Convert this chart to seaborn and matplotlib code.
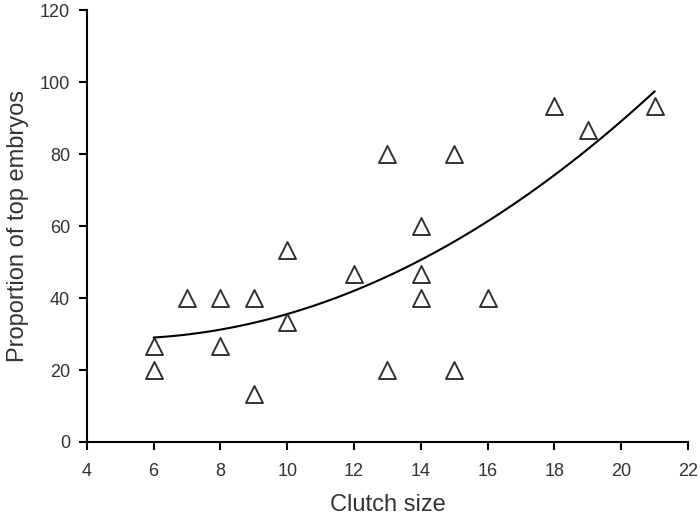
import matplotlib
matplotlib.use('Agg')
import matplotlib.pyplot as plt
import seaborn as sns
import pandas as pd

# Dane
clutch_size = [6, 6, 7, 8, 8, 9, 9, 10, 10, 12, 13, 13, 14, 14, 14, 15, 15, 16, 18, 19, 21]
top_embryos = [26.7, 20, 40, 40, 26.7, 40, 13.3, 53.3, 33.3, 46.7, 80, 20,
               60, 46.7, 40, 80, 20, 40, 93.3, 86.7, 93.3]
x_ticks = [4, 6, 8, 10, 12, 14, 16, 18, 20, 22]
y_ticks = [0, 20, 40, 60, 80, 100, 120]

df = pd.DataFrame({"clutch": clutch_size, "prop": top_embryos})

sns.set_style("ticks")
plt.rcParams['font.family'] = ['Liberation Sans', 'DejaVu Sans']

fig = plt.figure(figsize=(7, 5.2), dpi=100)
ax = fig.add_axes([0.124, 0.15, 0.859, 0.83])

# krzywa trendu wielomianowa (2 stopień) + punkty
sns.regplot(data=df, x="clutch", y="prop", order=2, ci=None, truncate=True,
            marker='^', ax=ax,
            scatter_kws=dict(s=150, facecolors='white', edgecolors='black', linewidths=1.4, zorder=3),
            line_kws=dict(color='black', lw=1.5, zorder=2))

ax.set_xlim(4, 22)
ax.set_ylim(0, 120)
ax.set_xticks(x_ticks)
ax.set_yticks(y_ticks)
ax.tick_params(axis='both', labelsize=13, labelcolor='#333333', direction='out',
               length=6, width=1.5, color='black')
ax.tick_params(axis='x', pad=9)
ax.tick_params(axis='y', pad=6)
for side in ['left', 'bottom']:
    ax.spines[side].set_linewidth(1.5)
    ax.spines[side].set_color('black')
sns.despine(ax=ax)

ax.set_xlabel('Clutch size', fontsize=17, color='#333333', labelpad=10)
ax.set_ylabel('Proportion of top embryos', fontsize=17, color='#333333', labelpad=8)

fig.savefig('out.png', dpi=100)
